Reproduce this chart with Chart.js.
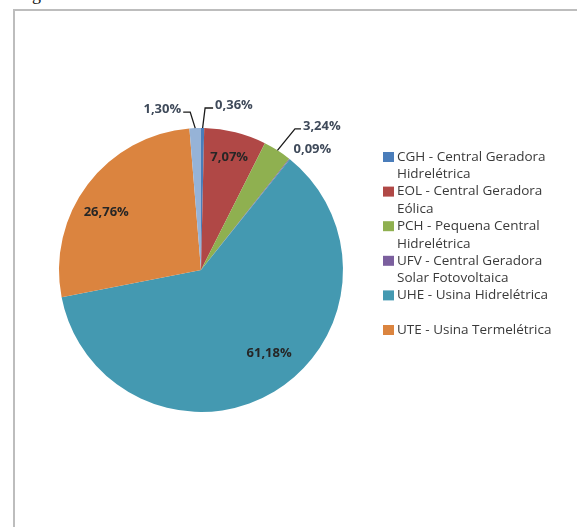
<!DOCTYPE html>
<html>
<head>
<meta charset="utf-8">
<script src="https://cdn.jsdelivr.net/npm/chart.js@4"></script>
<style>
  html, body { margin: 0; padding: 0; background: #fff; overflow: hidden; }
  #wrap { position: relative; width: 577px; height: 527px; }
  #frame { position: absolute; left: 13px; top: 9px; width: 600px; height: 600px;
           border-top: 2px solid #bdbdbd; border-left: 2px solid #bdbdbd; }
  #frag { position: absolute; left: 32px; top: -16px; font: 18px "Liberation Serif", serif; color: #111; }
  canvas { position: absolute; left: 0; top: 0; }
</style>
</head>
<body>
<div id="wrap">
  <div id="frag">g</div>
  <div id="frame"></div>
  <canvas id="pieChart" width="577" height="527"></canvas>
</div>
<script>
// dados do gráfico
const categories = [
    ['CGH - Central Geradora', 'Hidrelétrica'],
    ['EOL - Central Geradora', 'Eólica'],
    ['PCH - Pequena Central', 'Hidrelétrica'],
    ['UFV - Central Geradora', 'Solar Fotovoltaica'],
    ['UHE - Usina Hidrelétrica'],
    ['UTE - Usina Termelétrica'],
    ['UTN - Usina Termonuclear']
];
const shares = [0.36, 7.07, 3.24, 0.09, 61.18, 26.76, 1.30];
const colors = ['#4a7dba', '#b04846', '#8fb050', '#7b5f9e', '#4499b1', '#db843f', '#96b3d7'];
const legendShown = [0, 1, 2, 3, 4, 5];

// posição dos rótulos (Excel "melhor ajuste")
const labelPlace = [
    { out: true, elbow: [2.5, -20], run: 8 },
    { r: 0.82, da: 0 },
    { out: true, elbow: [17.5, -21.5], run: 6 },
    { out: true, text: [4, -10] },
    { r: 0.76, da: -8 },
    { r: 0.78, da: -6 },
    { out: true, elbow: [-5, -16], run: -7 }
];

const fmt = v => v.toFixed(2).replace('.', ',') + '%';

const pieLabels = {
    id: 'pieLabels',
    afterDatasetsDraw(chart) {
        const ctx = chart.ctx;
        const arcs = chart.getDatasetMeta(0).data;
        ctx.save();
        ctx.font = 'bold 13px "Open Sans", sans-serif';
        ctx.textBaseline = 'middle';
        arcs.forEach((arc, i) => {
            const p = labelPlace[i];
            const mid = (arc.startAngle + arc.endAngle) / 2;
            const R = arc.outerRadius;
            const txt = fmt(shares[i]);
            if (!p.out) {
                const a = mid + p.da * Math.PI / 180;
                ctx.fillStyle = '#262626';
                ctx.textAlign = 'center';
                ctx.fillText(txt, arc.x + Math.cos(a) * R * p.r, arc.y + Math.sin(a) * R * p.r);
                return;
            }
            const ex = arc.x + Math.cos(mid) * R;
            const ey = arc.y + Math.sin(mid) * R;
            ctx.fillStyle = '#3f4a5a';
            if (p.text) {
                ctx.textAlign = 'left';
                ctx.fillText(txt, ex + p.text[0], ey + p.text[1]);
                return;
            }
            const bx = ex + p.elbow[0], by = ey + p.elbow[1];
            const endX = bx + p.run;
            ctx.strokeStyle = '#1a1a1a';
            ctx.lineWidth = 1.3;
            ctx.beginPath();
            ctx.moveTo(ex, ey);
            ctx.lineTo(bx, by);
            ctx.lineTo(endX, by);
            ctx.stroke();
            ctx.textAlign = p.run > 0 ? 'left' : 'right';
            ctx.fillText(txt, endX + (p.run > 0 ? 2 : -2), by - 3);
        });
        ctx.restore();
    }
};

const sideLegend = {
    id: 'sideLegend',
    afterDraw(chart) {
        const ctx = chart.ctx;
        ctx.save();
        ctx.font = '13.5px "Open Sans", sans-serif';
        ctx.textBaseline = 'middle';
        ctx.textAlign = 'left';
        legendShown.forEach((idx, k) => {
            const y0 = 157 + k * 34.6;
            ctx.fillStyle = colors[idx];
            ctx.fillRect(383, y0 - 5, 11, 10);
            ctx.fillStyle = '#3a3a3a';
            categories[idx].forEach((line, j) => {
                ctx.fillText(line, 397, y0 + j * 17.5);
            });
        });
        ctx.restore();
    }
};

new Chart(document.getElementById('pieChart').getContext('2d'), {
    type: 'pie',
    data: {
        labels: categories,
        datasets: [{
            data: shares,
            backgroundColor: colors,
            borderWidth: 0
        }]
    },
    options: {
        responsive: false,
        animation: false,
        layout: { padding: { left: 59, top: 128, right: 234, bottom: 115 } },
        plugins: {
            legend: { display: false },
            tooltip: { enabled: false }
        }
    },
    plugins: [pieLabels, sideLegend]
});
</script>
</body>
</html>
